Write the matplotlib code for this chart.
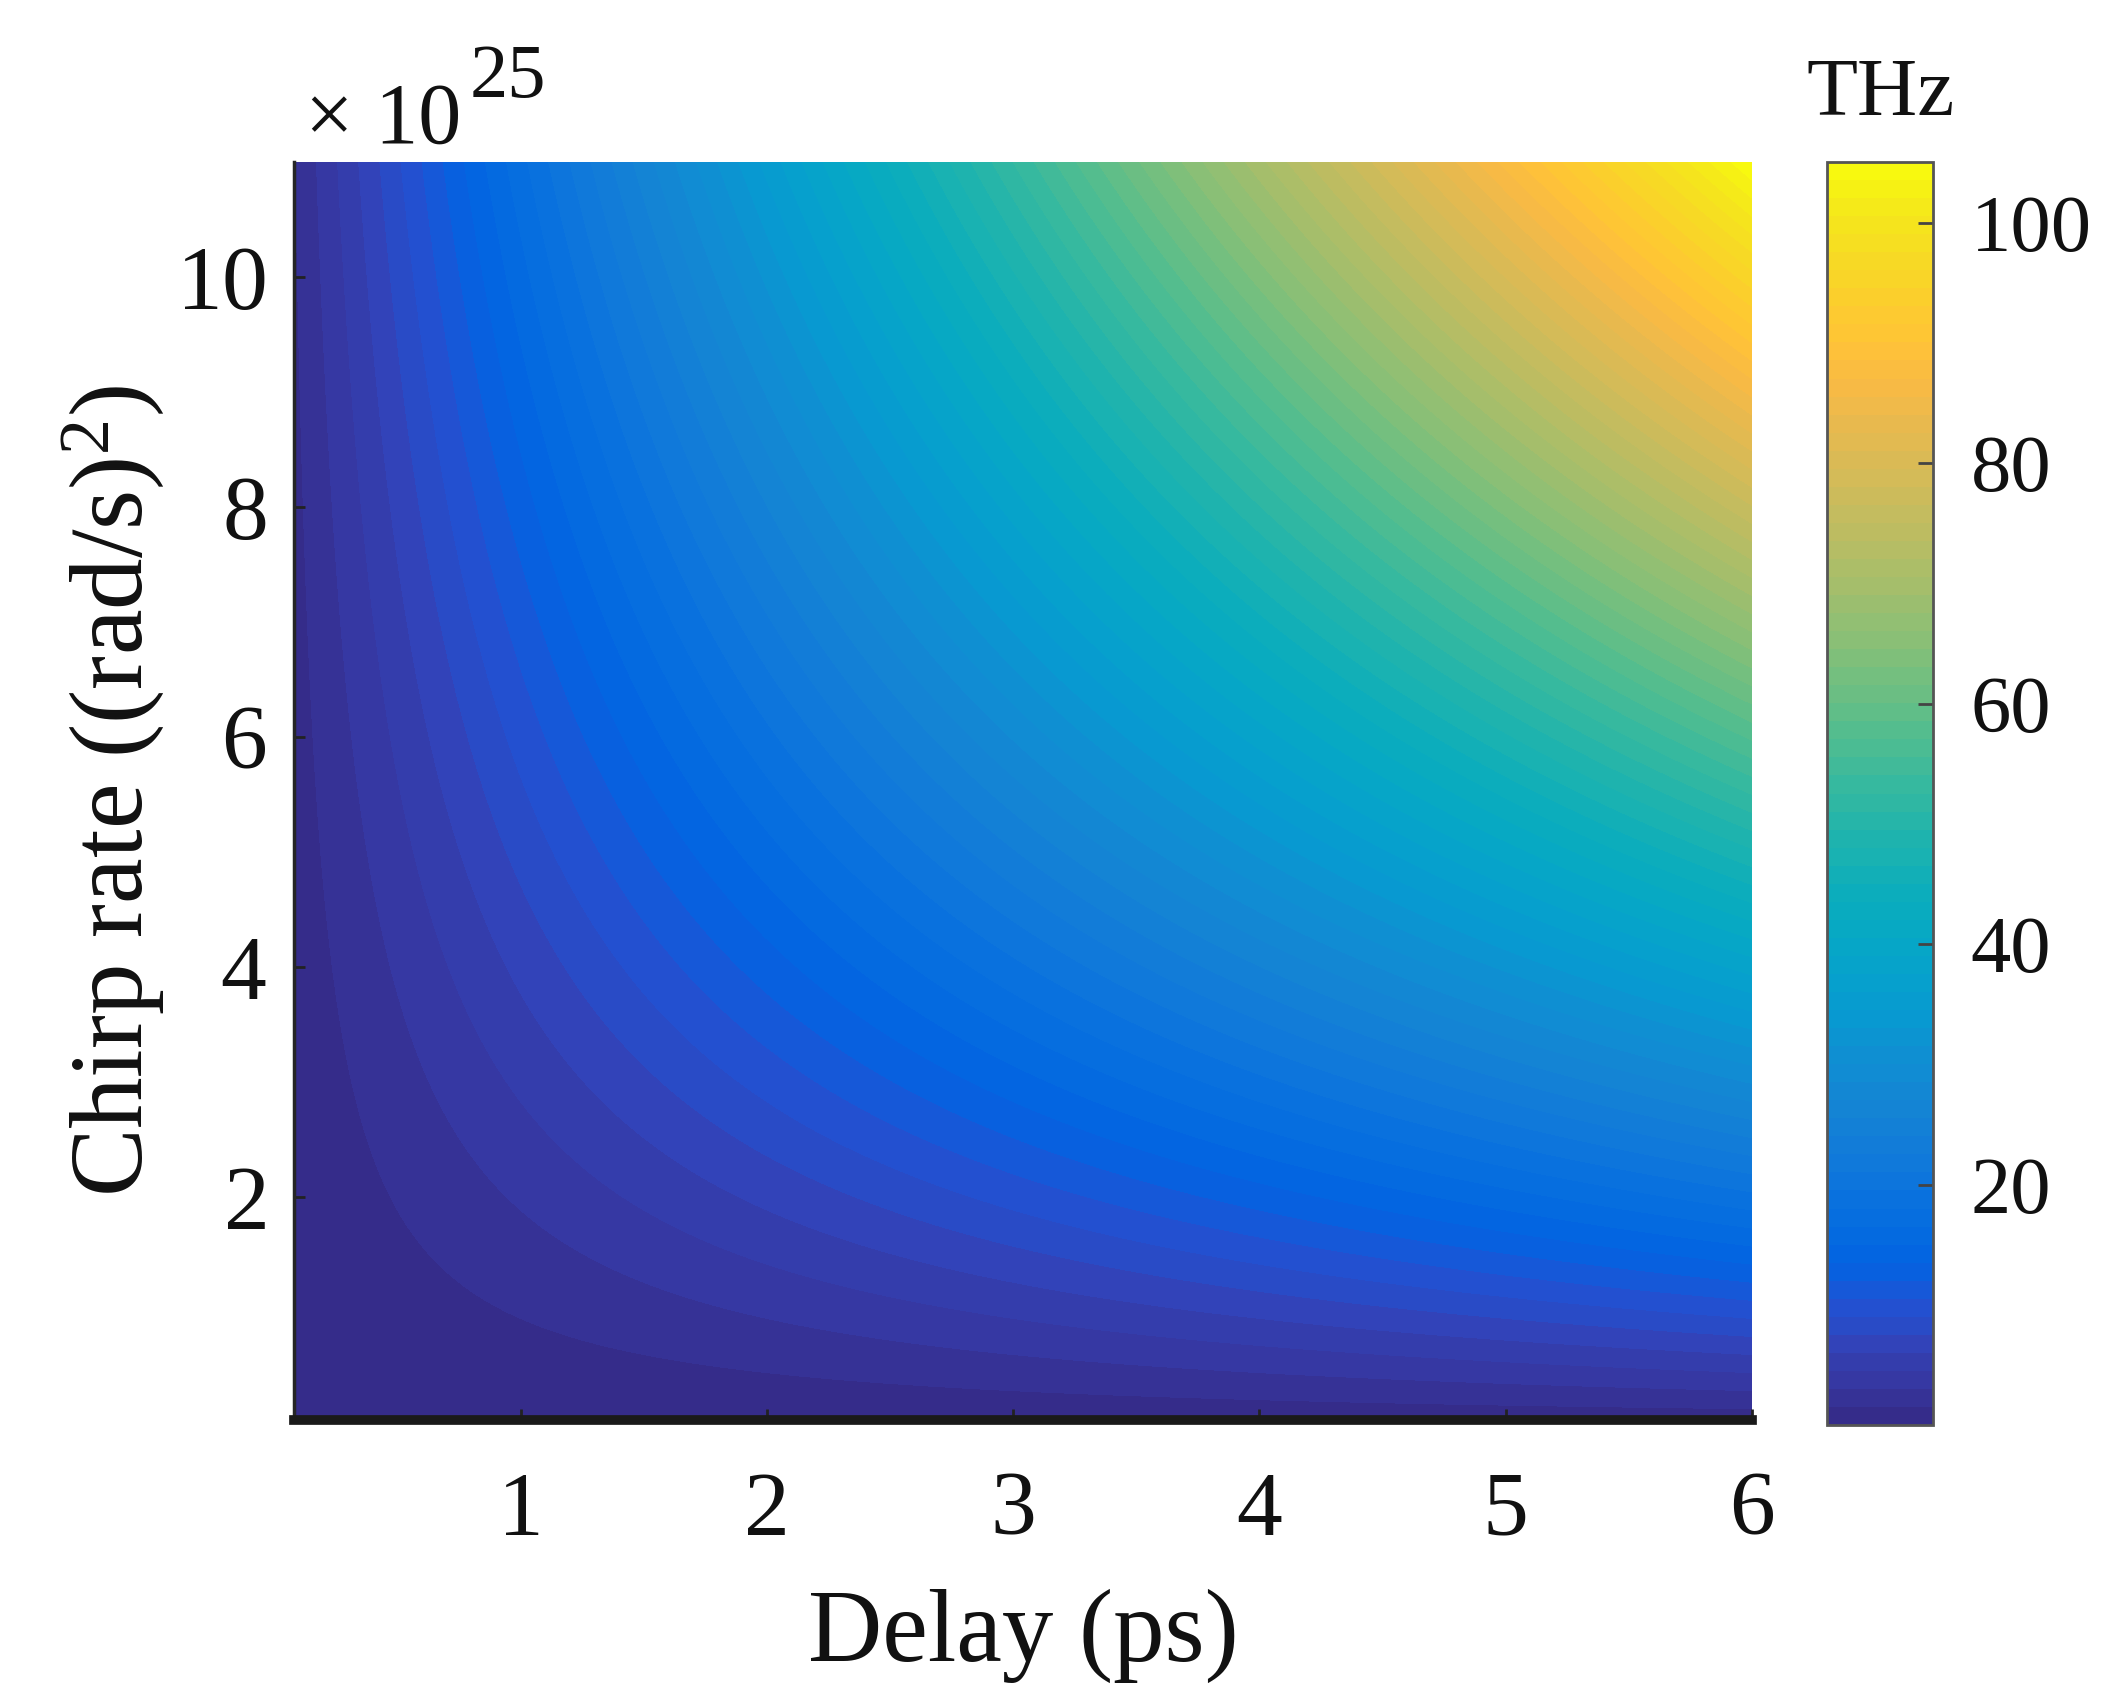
import numpy as np
import matplotlib
matplotlib.use('Agg')
import matplotlib.pyplot as plt
from matplotlib.colors import LinearSegmentedColormap

plt.rcParams['font.family'] = ['Liberation Serif', 'DejaVu Serif']
plt.rcParams['mathtext.fontset'] = 'custom'
plt.rcParams['mathtext.rm'] = 'Liberation Serif'
plt.rcParams['mathtext.it'] = 'Liberation Serif:italic'

# axis ranges
delay_lim = [0.08, 6.0]            # ps
chirp_lim = [0.06e25, 11.0e25]     # (rad/s)^2
delay_ticks = [1, 2, 3, 4, 5, 6]
chirp_ticks = [2e25, 4e25, 6e25, 8e25, 10e25]
cbar_ticks = [20, 40, 60, 80, 100]
n_levels = 70

# parula (MATLAB) anchor colours
parula_idx = [0, 2, 4, 6, 8, 10, 12, 14, 16, 18, 20, 22, 24, 26, 28, 30,
              32, 34, 36, 38, 40, 42, 44, 46, 48, 50, 52, 54, 56, 58, 60, 62, 63]
parula_rgb = [
    [0.2081, 0.1663, 0.5292], [0.2123, 0.2138, 0.6270], [0.1959, 0.2645, 0.7279],
    [0.1253, 0.3242, 0.8303], [0.0117, 0.3875, 0.8820], [0.0165, 0.4266, 0.8786],
    [0.0498, 0.4586, 0.8641], [0.0723, 0.4887, 0.8467], [0.0793, 0.5200, 0.8312],
    [0.0641, 0.5570, 0.8240], [0.0343, 0.5966, 0.8199], [0.0239, 0.6287, 0.8038],
    [0.0228, 0.6535, 0.7768], [0.0384, 0.6743, 0.7436], [0.0843, 0.6928, 0.7062],
    [0.1453, 0.7098, 0.6646], [0.2178, 0.7250, 0.6193], [0.3022, 0.7376, 0.5712],
    [0.3953, 0.7459, 0.5244], [0.4871, 0.7491, 0.4840], [0.5709, 0.7485, 0.4494],
    [0.6473, 0.7456, 0.4188], [0.7184, 0.7411, 0.3905], [0.7858, 0.7356, 0.3633],
    [0.8507, 0.7299, 0.3360], [0.9139, 0.7258, 0.3063], [0.9739, 0.7314, 0.2666],
    [0.9990, 0.7653, 0.2164], [0.9880, 0.8066, 0.1794], [0.9697, 0.8481, 0.1475],
    [0.9589, 0.8949, 0.1132], [0.9661, 0.9514, 0.0755], [0.9763, 0.9831, 0.0538],
]
parula = LinearSegmentedColormap.from_list(
    'parula', [(i / 63, c) for i, c in zip(parula_idx, parula_rgb)])

delay = np.linspace(delay_lim[0], delay_lim[1], 500)
chirp = np.linspace(chirp_lim[0], chirp_lim[1], 500)
D, C = np.meshgrid(delay, chirp)
# beat frequency f = chirp * delay / (2 pi), in THz
freq = C * (D * 1e-12) / (2 * np.pi) / 1e12

fig = plt.figure(figsize=(21.24, 17.05), dpi=100)
ax = fig.add_axes([0.1384, 0.1672, 0.6865, 0.7378])
cax = fig.add_axes([0.8602, 0.1642, 0.0499, 0.7408])

levels = np.linspace(0, freq.max(), n_levels + 1)
cs = ax.contourf(D, C, freq, levels=levels, cmap=parula)

ax.set_xlim(delay_lim)
ax.set_ylim(chirp_lim)
ax.set_xticks(delay_ticks)
ax.set_yticks(chirp_ticks)
ax.ticklabel_format(axis='y', style='sci', scilimits=(25, 25), useMathText=True)
ax.yaxis.get_offset_text().set_visible(False)

ax.tick_params(axis='both', direction='in', length=8, width=2, colors='#222222',
               labelcolor='#111111', labelsize=66)
ax.tick_params(axis='x', pad=37)
ax.tick_params(axis='y', pad=20)

for s in ['top', 'right']:
    ax.spines[s].set_visible(False)
ax.spines['bottom'].set_linewidth(7)
ax.spines['bottom'].set_color('#1a1a1a')
ax.spines['left'].set_linewidth(2.5)
ax.spines['left'].set_color('#262626')

ax.set_xlabel('Delay (ps)', fontsize=74, color='#111111')
ax.set_ylabel('Chirp rate ((rad/s)$^2$)', fontsize=74, color='#111111')
ax.xaxis.set_label_coords(0.5, -0.134)
ax.yaxis.set_label_coords(-0.087, 0.5)

# exponent of the chirp axis, MATLAB style
fig.text(0.1436, 0.9161, '\u00d7 10', fontsize=62, ha='left', va='baseline', color='#111111')
fig.text(0.2210, 0.9431, '25', fontsize=55, ha='left', va='baseline', color='#111111')

cbar = fig.colorbar(cs, cax=cax, ticks=cbar_ticks)
cbar.outline.set_edgecolor('#555555')
cbar.outline.set_linewidth(2)
cax.tick_params(direction='in', length=11, width=2, colors='#444444',
                labelcolor='#111111', labelsize=58, pad=27)
fig.text(0.8855, 0.9326, 'THz', fontsize=60, ha='center', va='baseline', color='#111111')

fig.savefig('out.png', dpi=100)
